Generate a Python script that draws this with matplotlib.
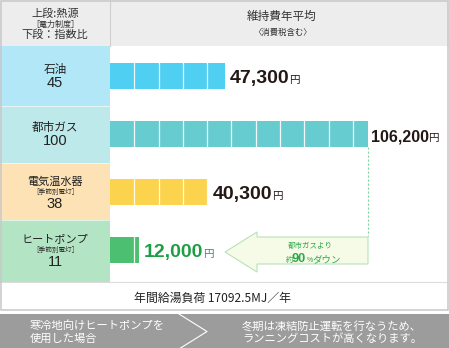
import matplotlib
matplotlib.use('Agg')
import matplotlib.pyplot as plt
from matplotlib import font_manager
from matplotlib.patches import Rectangle, Polygon

JP = ['Noto Sans CJK JP', 'DejaVu Sans']
LAT = ['Liberation Sans', 'DejaVu Sans']
_names = {f.name for f in font_manager.fontManager.ttflist}
HAS_NARROW = 'Liberation Sans Narrow' in _names

# ---------------- data ----------------
sources = ['石油', '都市ガス', '電気温水器', 'ヒートポンプ']
sub_notes = ['', '', '［季節別電灯］', '［季節別電灯］']
index_ratio = ['45', '100', '38', '11']
annual_cost = [47300, 106200, 40300, 12000]
cost_labels = ['47,300', '106,200', '40,300', '12,000']
unit = '円'
bar_colors = ['#4fcff2', '#66ccd0', '#fcd34d', '#4cbf71']
cell_colors = ['#b2e7f7', '#bde9ea', '#fde2b6', '#b3e4c4']
label_colors = ['#231815', '#231815', '#231815', '#1e9f45']
segment_step = 10000

W, H = 449, 348
fig = plt.figure(figsize=(W / 100, H / 100), dpi=100)

# background / table layout in pixel coordinates
bg = fig.add_axes([0, 0, 1, 1])
bg.set_xlim(0, W)
bg.set_ylim(H, 0)
bg.axis('off')

left_w = 110
row_bounds = [46, 106, 163, 220, 282]
table_bottom = 309

bg.add_patch(Rectangle((0, 0), W, 46, color='#ededed', lw=0, zorder=0))
for i in range(4):
    bg.add_patch(Rectangle((0, row_bounds[i]), left_w - 0.5, row_bounds[i + 1] - row_bounds[i],
                           color=cell_colors[i], lw=0, zorder=0))
    if i > 0:
        bg.plot([0, left_w - 0.5], [row_bounds[i], row_bounds[i]], color='white', lw=0.6, alpha=0.7, zorder=1)
bg.plot([left_w, left_w], [0, 46], color='#cfcfcf', lw=0.8, zorder=1)
bg.plot([0, W], [282, 282], color='#dcdcdc', lw=0.8, zorder=1)
bg.add_patch(Rectangle((0.75, 0.75), W - 2.2, table_bottom, fill=False, ec='#c8c8c8', lw=1.1, zorder=5))

# bottom banner
bg.add_patch(Rectangle((0, 314), W, 34, color='#9c9c9c', lw=0, zorder=0))
bg.plot([179, 207, 179], [314, 331.5, 349], color='white', lw=0.8, zorder=1)
bg.text(30, 325, '寒冷地向けヒートポンプを', family=JP, fontsize=8.1, color='white', va='center_baseline', ha='left')
bg.text(30, 338, '使用した場合', family=JP, fontsize=8.1, color='white', va='center_baseline', ha='left')
bg.text(242, 326, '冬期は凍結防止運転を行なうため、', family=JP, fontsize=8.1, color='white', va='center_baseline', ha='left')
bg.text(242, 338, 'ランニングコストが高くなります。', family=JP, fontsize=8.1, color='white', va='center_baseline', ha='left')

# header texts
bg.text(55, 13, '上段:熱源', family=JP, fontsize=8, color='#333333', ha='center', va='center_baseline')
bg.text(55, 23.5, '［電力制度］', family=JP, fontsize=5.8, color='#333333', ha='center', va='center_baseline')
bg.text(55, 34, '下段：指数比', family=JP, fontsize=8, color='#333333', ha='center', va='center_baseline')
bg.text(282, 15, '維持費年平均', family=JP, fontsize=8.4, color='#333333', ha='center', va='center_baseline')
bg.text(282, 31, '〈消費税含む〉', family=JP, fontsize=6, color='#333333', ha='center', va='center_baseline')

# left column labels
row_center = [76 + 58 * i for i in range(4)]
for i in range(4):
    c = row_center[i]
    if sub_notes[i]:
        bg.text(55, c - 11.5, sources[i], family=JP, fontsize=8, color='#222222', ha='center', va='center_baseline')
        bg.text(55, c - 1, sub_notes[i], family=JP, fontsize=4.8, color='#333333', ha='center', va='center_baseline')
        bg.text(55, c + 11, index_ratio[i], family=LAT, fontsize=10.5, color='#222222', ha='center', va='center_baseline')
    else:
        bg.text(55, c - 8, sources[i], family=JP, fontsize=8.4, color='#222222', ha='center', va='center_baseline')
        bg.text(55, c + 5.5, index_ratio[i], family=LAT, fontsize=10.5, color='#222222', ha='center', va='center_baseline')

bg.text(213, 297, '年間給湯負荷 17092.5MJ／年', family=JP, fontsize=8.6, color='#222222', ha='center', va='center_baseline')

# ---------------- bars ----------------
top_px, bot_px = 46, 282
ax = fig.add_axes([left_w / W, (H - bot_px) / H, (W - left_w) / W, (bot_px - top_px) / H])
ax.patch.set_alpha(0)
ax.axis('off')
ax.set_xlim(0, (W - left_w) / 258 * 106200)
ax.set_ylim((bot_px - 76) / 58, (top_px - 76) / 58)
bh = 26 / 58
ypos = list(range(len(sources)))
ax.barh(ypos, annual_cost, height=bh, color=bar_colors, lw=0, zorder=2)
for i, v in enumerate(annual_cost):
    k = segment_step
    while k < v:
        ax.plot([k, k], [i - bh / 2, i + bh / 2], color='white', lw=0.9, alpha=0.9, zorder=3)
        k += segment_step

# dashed guide from gas bar down to arrow
gas_i = 1
ax.plot([annual_cost[gas_i]] * 2, [gas_i + bh / 2, (236 - 76) / 58], color='#7fd6a0',
        lw=0.8, dashes=(2, 1.6), zorder=2)

# arrow
arrow = Polygon([(225, 252), (257, 232), (257, 237), (368, 237), (368, 264), (257, 264), (257, 272)],
                closed=True, fc='#f6fbe7', ec='#b8e2b8', lw=0.8, zorder=2)
bg.add_patch(arrow)
bg.text(310, 245, '都市ガスより', family=JP, fontsize=5.4, color='#2ca84a', ha='center', va='center_baseline', zorder=4)
bg.text(285.5, 262, '約', family=JP, fontsize=5.2, color='#2ca84a', ha='left', va='baseline', zorder=4)
bg.text(292, 262, '90', family=LAT, fontsize=9.2, weight='bold', color='#2ca84a', ha='left', va='baseline', zorder=4)
bg.text(306.5, 262, '%', family=LAT, fontsize=5, color='#2ca84a', ha='left', va='baseline', zorder=4)
bg.text(312, 262, 'ダウン', family=JP, fontsize=6.8, color='#2ca84a', ha='left', va='baseline', zorder=4)

# value labels
renderer = fig.canvas.get_renderer()
gap_px = 5
for i, (v, lab) in enumerate(zip(annual_cost, cost_labels)):
    if i == gas_i:
        if HAS_NARROW:
            fam, fs = ['Liberation Sans Narrow', 'DejaVu Sans'], 14
        else:
            fam, fs = LAT, 11.5
        g = 3
    else:
        fam, fs = LAT, 14
        g = gap_px
    t = ax.annotate(lab, xy=(v, i), xytext=(g * 0.72, -7 * 0.72), textcoords='offset points',
                    fontsize=fs, family=fam, weight='bold', color=label_colors[i],
                    ha='left', va='baseline', zorder=4, annotation_clip=False)
    wpx = t.get_window_extent(renderer).width
    ax.annotate(unit, xy=(v, i), xytext=((g + wpx - 0.8) * 0.72, -7 * 0.72), textcoords='offset points',
                fontsize=7.6, family=JP, color=label_colors[i], ha='left', va='baseline',
                zorder=4, annotation_clip=False)

fig.savefig('out.png', dpi=100)
